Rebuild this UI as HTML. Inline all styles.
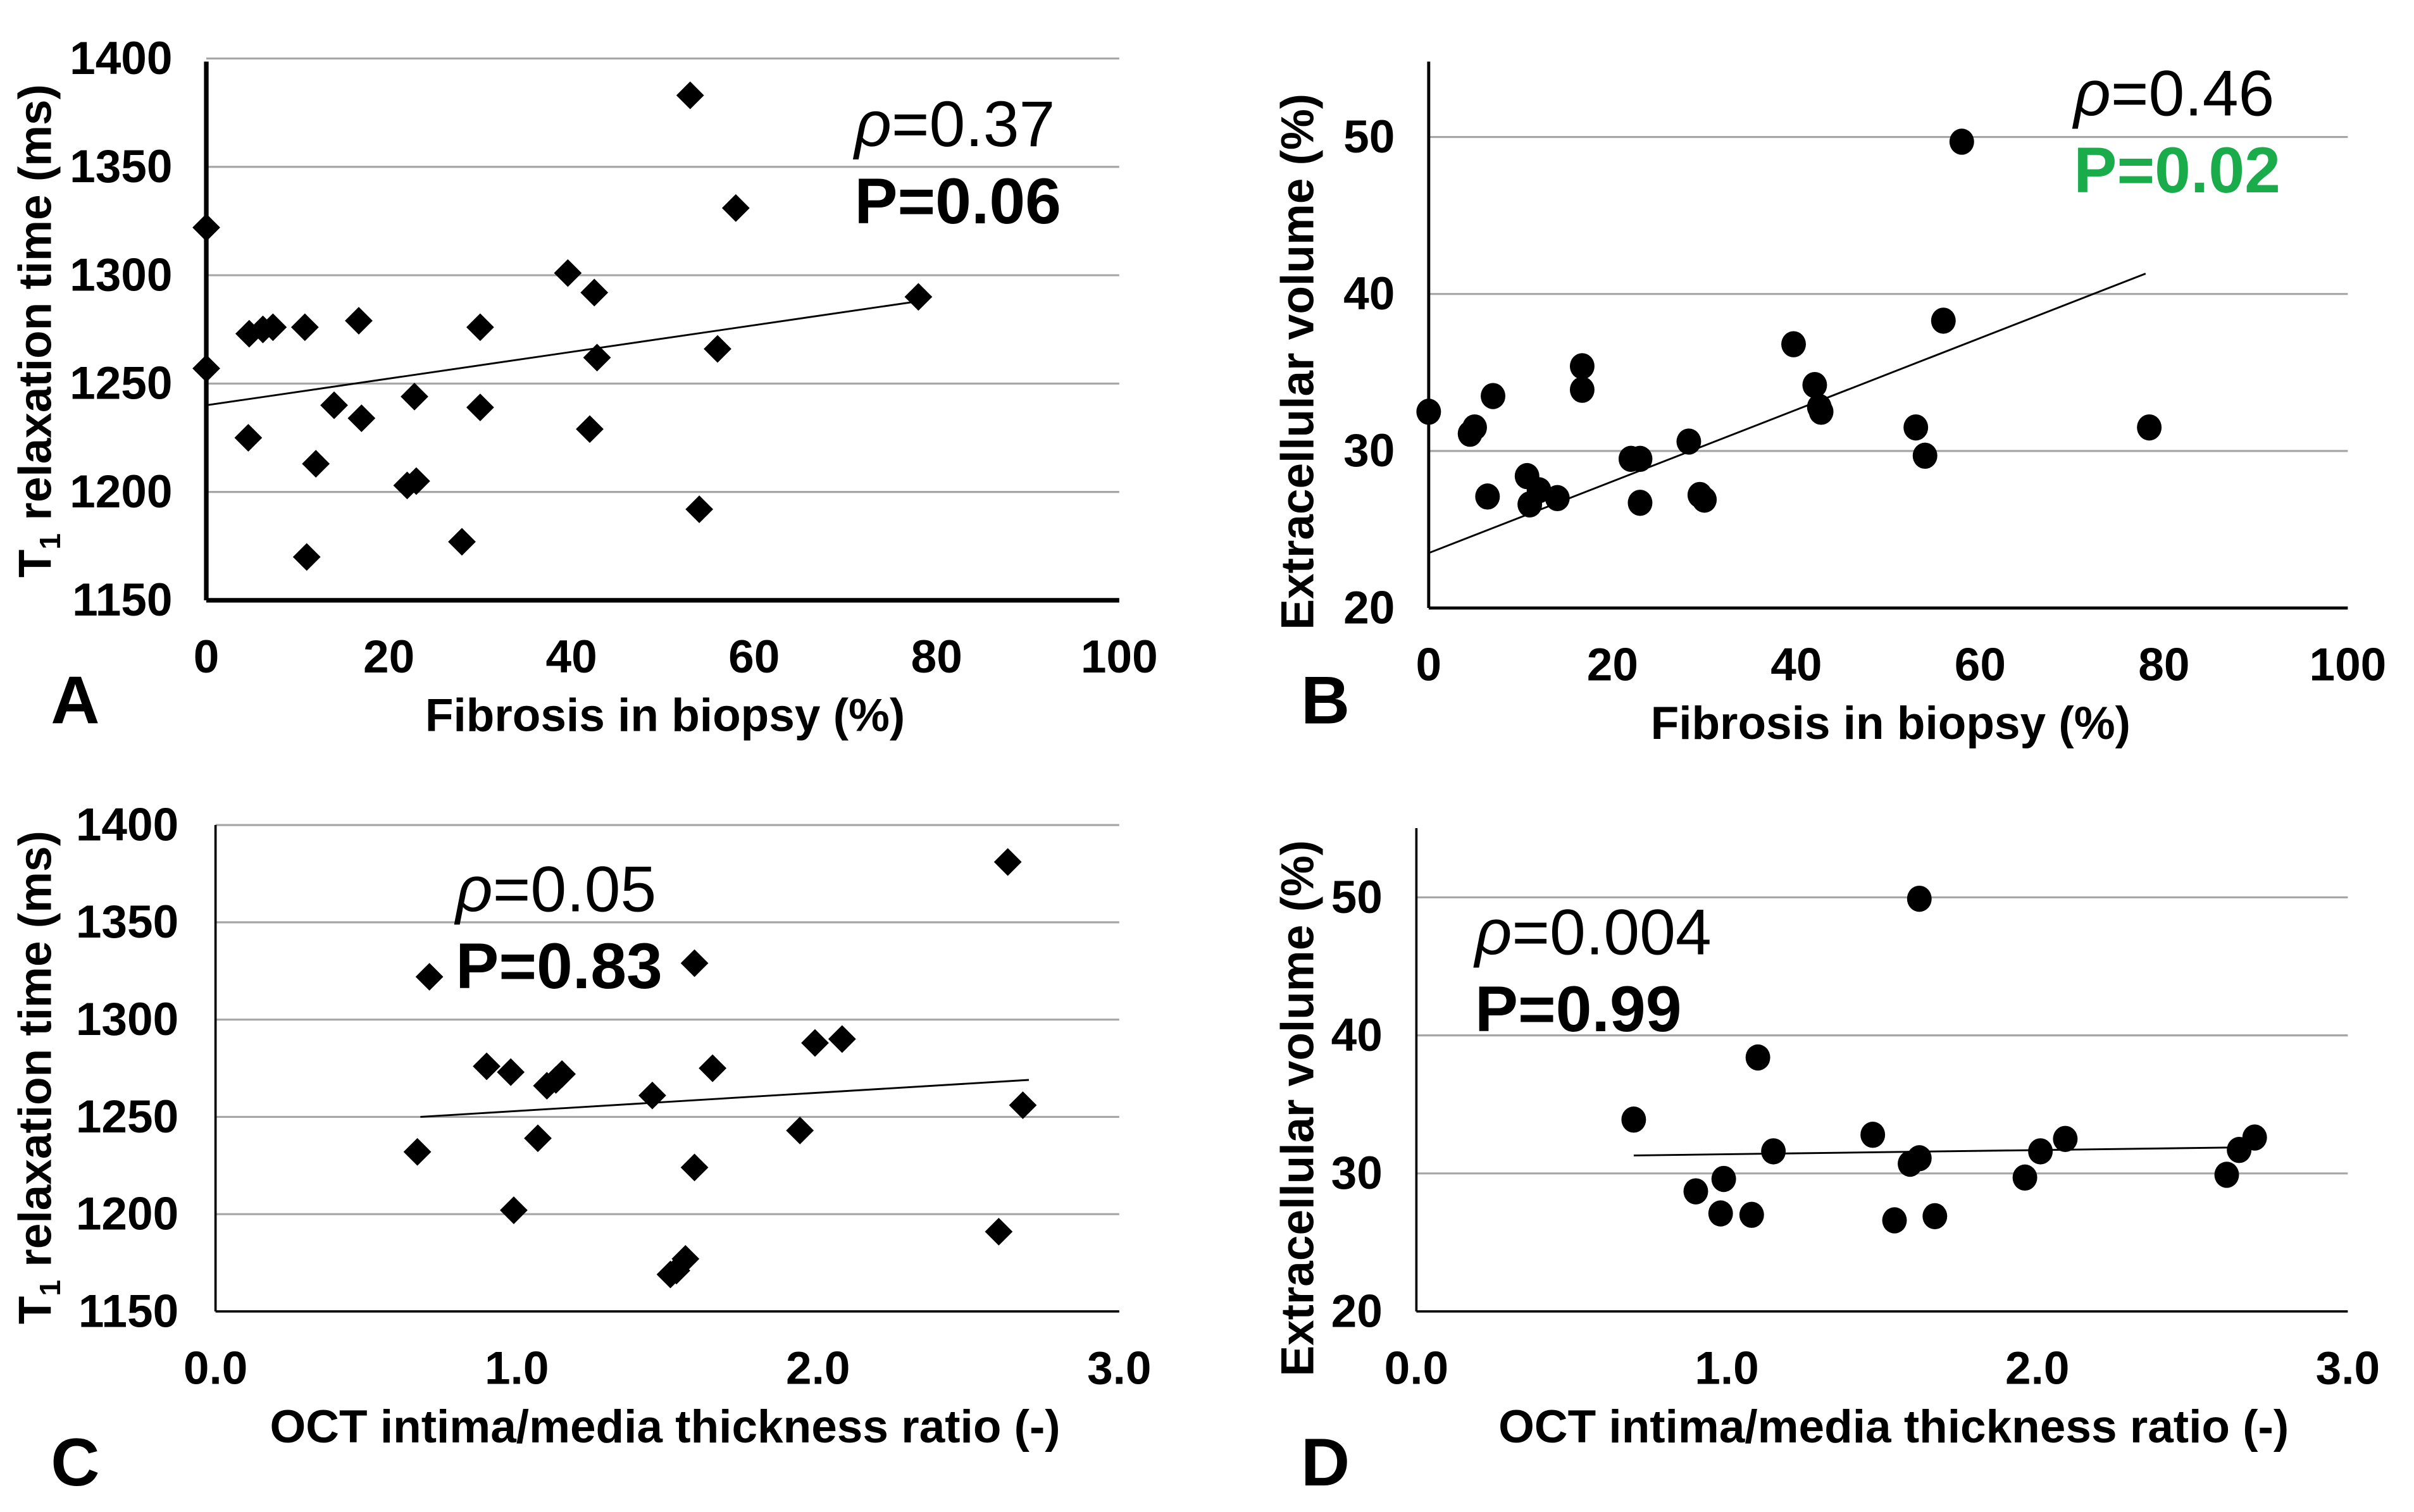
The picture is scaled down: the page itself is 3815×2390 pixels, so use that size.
<!DOCTYPE html>
<html><head><meta charset="utf-8"><style>
html,body{margin:0;padding:0;background:#fff;}
svg{display:block;}
text{font-family:"Liberation Sans Narrow","Liberation Sans",sans-serif;}
</style></head><body>
<svg id="fig" width="3815" height="2390" viewBox="0 0 1568 982.3" preserveAspectRatio="none" xmlns="http://www.w3.org/2000/svg"></svg>
<script>
const aX=[0,0,4.6,4.7,6.2,7.3,10.8,11,12,14,16.7,17,22.8,22,23,28,30,30,39.6,42.5,42.8,42,53,54,56,58,78];
const aY=[1322,1257,1225,1273,1275,1276,1276,1170,1213,1240,1279,1234,1244,1203,1205,1177,1239,1276,1301,1292,1262,1229,1383,1192,1266,1331,1290];
const bX=[0,4.5,5,6.4,7,10.7,11,12,14,16.7,16.7,22,23,23,28.3,29.5,30,39.7,42,42.5,42.7,53,54,56,58,78.4];
const bY=[32.5,31.1,31.5,27.1,33.5,28.4,26.6,27.5,27,35.4,33.9,29.5,29.5,26.7,30.6,27.2,26.9,36.8,34.2,32.8,32.5,31.5,29.7,38.3,49.7,31.5];
const cX=[0.67,0.71,0.9,0.98,0.99,1.07,1.1,1.13,1.15,1.45,1.51,1.53,1.56,1.59,1.59,1.65,1.94,1.99,2.08,2.6,2.63,2.68];
const cY=[1232,1322,1276,1273,1202,1239,1266,1269,1272,1261,1169,1171,1177,1329,1224,1275,1243,1288,1290,1191,1381,1256];
const dX=[0.7,0.9,0.99,0.98,1.08,1.1,1.15,1.47,1.54,1.59,1.62,1.62,1.67,1.96,2.01,2.09,2.61,2.65,2.7];
const dY=[33.9,28.7,29.6,27.1,27,38.4,31.6,32.8,26.6,30.7,31.1,49.9,26.9,29.7,31.6,32.5,29.9,31.7,32.6];
const aTicksX=[0,20,40,60,80,100], aTicksY=[1150,1200,1250,1300,1350,1400];
const bTicksY=[20,30,40,50];
const cTicksX=[0,1,2,3];
const aTrend=[[0,1240],[78,1288]], bTrend=[[0,23.5],[78,41.3]], cTrend=[[0.68,1250],[2.7,1269]], dTrend=[[0.7,31.3],[2.7,31.9]];

const NS="http://www.w3.org/2000/svg", svg=document.getElementById('fig');
function el(tag,attrs,parent){const e=document.createElementNS(NS,tag);for(const k in attrs)e.setAttribute(k,attrs[k]);(parent||svg).appendChild(e);return e;}
function txt(s,attrs,parent){const t=el('text',attrs,parent);t.textContent=s;return t;}

function panel(o){
  const g=el('g',{});
  
  
  const sx=v=>o.x0+(v-o.xmin)/(o.xmax-o.xmin)*(o.x1-o.x0);
  const sy=v=>o.y0-(v-o.ymin)/(o.ymax-o.ymin)*(o.y0-o.y1);
  o.grid.forEach(v=>{const l=el('line',{x1:o.x0,x2:o.x1,y1:sy(v),y2:sy(v),stroke:'#a6a6a6','stroke-width':1.3},g);
    });
  const ya=el('line',{x1:o.x0,x2:o.x0,y1:o.axTop,y2:o.y0,stroke:'#000','stroke-width':o.axW},g);
  
  const xa=el('line',{x1:o.x0,x2:o.x1,y1:o.y0,y2:o.y0,stroke:'#000','stroke-width':o.axW},g);
  
  o.yt.forEach(v=>{const t=txt(String(v),{x:o.x0-o.ylOff,y:sy(v)+10,'text-anchor':'end','font-size':30,'font-weight':'bold'},g);
    });
  o.xt.forEach(v=>{const t=txt(o.fmt(v),{x:sx(v),y:o.y0+47,'text-anchor':'middle','font-size':30,'font-weight':'bold'},g);
    });
  const tr=el('line',{x1:sx(o.trend[0][0]),y1:sy(o.trend[0][1]),x2:sx(o.trend[1][0]),y2:sy(o.trend[1][1]),stroke:'#000','stroke-width':1.2},g);
  
  o.xs.forEach((xv,i)=>{const px=sx(xv),py=sy(o.ys[i]);let m;
    if(o.diamond)m=el('polygon',{points:`${px},${py-9} ${px+9},${py} ${px},${py+9} ${px-9},${py}`,fill:'#000'},g);
    else m=el('ellipse',{cx:px,cy:py,rx:8,ry:8.5,fill:'#000'},g);
    });
  const xt=txt(o.xtitle,{x:o.xtx,y:o.y0+85,'text-anchor':'middle','font-size':30,'font-weight':'bold'},g);
  
  const yt=el('text',{transform:`translate(${o.ytx},${o.yty}) rotate(-90)`,'text-anchor':'middle','font-size':30,'font-weight':'bold'},g);
  
  if(o.t1){yt.innerHTML='T<tspan font-size="19" dy="6">1</tspan><tspan dy="-6"> relaxation time (ms)</tspan>';}
  else yt.textContent='Extracellular volume (%)';
  const lt=txt(o.letter,{x:o.lx,y:o.ly,'font-size':44,'font-weight':'bold'},g);
  
  const r=el('text',{x:o.rx,y:o.ry,'font-size':42},g);
  r.innerHTML='<tspan font-style="italic" font-family="Liberation Sans, sans-serif">ρ</tspan>='+o.rho;
  
  const p=txt('P='+o.p,{x:o.rx,y:o.ry+50,'font-size':42,'font-weight':'bold',fill:o.pc||'#000'},g);
  
}
const t1txt={t1:true};
panel({name:'panel-a',x0:134,x1:727,y0:390,y1:38,xmin:0,xmax:100,ymin:1150,ymax:1400,axTop:40,axW:3,ylOff:22,
  grid:[1200,1250,1300,1350,1400],yt:aTicksY,xt:aTicksX,fmt:v=>String(v),xs:aX,ys:aY,trend:aTrend,diamond:true,
  xtitle:'Fibrosis in biopsy (%)',xtx:432,ytx:33,yty:215,t1:true,letter:'A',lx:33,ly:470,rx:555,ry:95,rho:'0.37',p:'0.06'});
panel({name:'panel-b',x0:928,x1:1525,y0:395,y1:89,xmin:0,xmax:100,ymin:20,ymax:50,axTop:40,axW:2,ylOff:22,
  grid:[30,40,50],yt:bTicksY,xt:aTicksX,fmt:v=>String(v),xs:bX,ys:bY,trend:bTrend,diamond:false,
  xtitle:'Fibrosis in biopsy (%)',xtx:1228,ytx:853,yty:235,letter:'B',lx:845,ly:470,rx:1347,ry:75,rho:'0.46',p:'0.02',pc:'#1aab4b'});
panel({name:'panel-c',x0:140,x1:727,y0:852,y1:536,xmin:0,xmax:3,ymin:1150,ymax:1400,axTop:536,axW:1.5,ylOff:24,
  grid:[1200,1250,1300,1350,1400],yt:aTicksY,xt:cTicksX,fmt:v=>v.toFixed(1),xs:cX,ys:cY,trend:cTrend,diamond:true,
  xtitle:'OCT intima/media thickness ratio (-)',xtx:432,ytx:33,yty:700,t1:true,letter:'C',lx:33,ly:965,rx:296,ry:592,rho:'0.05',p:'0.83'});
panel({name:'panel-d',x0:920,x1:1525,y0:852,y1:583,xmin:0,xmax:3,ymin:20,ymax:50,axTop:538,axW:1.5,ylOff:22,
  grid:[30,40,50],yt:bTicksY,xt:cTicksX,fmt:v=>v.toFixed(1),xs:dX,ys:dY,trend:dTrend,diamond:false,
  xtitle:'OCT intima/media thickness ratio (-)',xtx:1230,ytx:853,yty:720,letter:'D',lx:845,ly:965,rx:958,ry:620,rho:'0.004',p:'0.99'});
</script>
</body></html>
